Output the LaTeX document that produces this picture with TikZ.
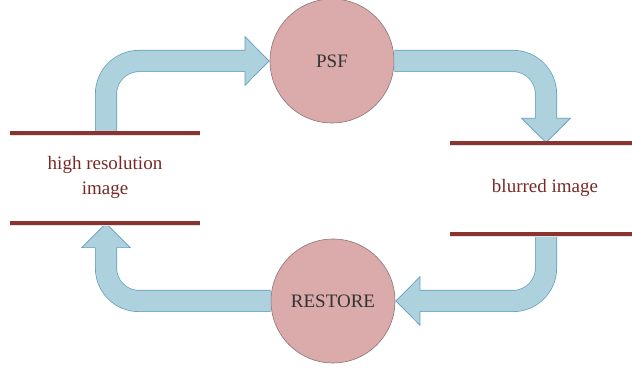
\documentclass[tikz,border=0pt]{standalone}
\usepackage{fontspec}
\setmainfont{Liberation Serif}
\usetikzlibrary{arrows.meta}

\definecolor{flowfill}{RGB}{173,210,222}
\definecolor{flowline}{RGB}{96,156,188}
\definecolor{stagefill}{RGB}{219,170,170}
\definecolor{stageline}{RGB}{140,118,118}
\definecolor{barred}{RGB}{137,52,48}
\definecolor{textred}{RGB}{118,42,38}

\tikzset{
  flow/.style={draw=flowfill, line width=20.6pt, rounded corners=33pt, shorten >=23pt,
    preaction={draw=flowline, line width=22pt, shorten >=0pt,
      -{Triangle[length=25pt,width=50pt,fill=flowfill,line width=0.7pt]}}},
  stage/.style={circle, draw=stageline, fill=stagefill, line width=0.6pt,
    minimum size=124pt, inner sep=0pt, text=black!80, font=\fontsize{19}{23}\selectfont},
  bar/.style={draw=barred, line width=4pt,
    preaction={draw=black!12, transform canvas={yshift=-2.5pt}}},
  imgtext/.style={text=textred, align=center, font=\fontsize{19}{25}\selectfont}
}

\begin{document}
\begin{tikzpicture}[x=1pt,y=1pt]
\useasboundingbox (0,0) rectangle (632,372);

% the two steps
\node[stage] (psf) at (332,311) {PSF};
\node[stage] (restore) at (333,71) {RESTORE};

% where the arrows start and end
\coordinate (hrtop) at (106,239);
\coordinate (hrbot) at (106,149);
\coordinate (brtop) at (546,229);
\coordinate (brbot) at (546,138);

% the loop
\draw[flow] (hrtop) |- (psf.west);
\draw[flow] (psf.east) -| (brtop);
\draw[flow] (brbot) |- (restore.east);
\draw[flow] (restore.west) -| (hrbot);

% images
\draw[bar] (10,239) -- (200,239);
\draw[bar] (10,149) -- (200,149);
\draw[bar] (450,229) -- (632,229);
\draw[bar] (450,138) -- (632,138);
\node[imgtext] (hrtext) at (105,195) {high resolution\\image};
\node[imgtext] (brtext) at (545,184) {blurred image};
\end{tikzpicture}
\end{document}
